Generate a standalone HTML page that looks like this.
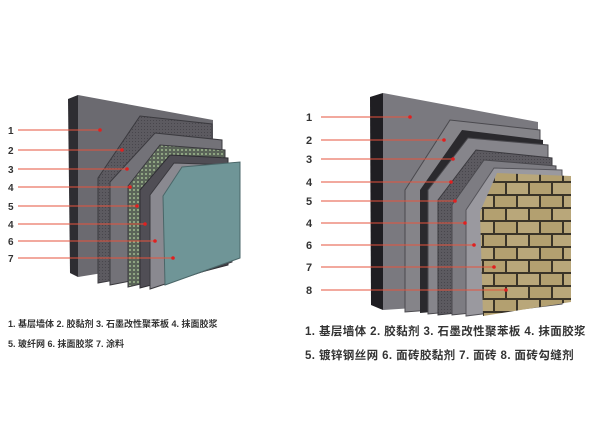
<!DOCTYPE html>
<html><head><meta charset="utf-8"><style>
body{margin:0;background:#fff;width:600px;height:429px;overflow:hidden}
svg{display:block}
text{font-family:"Liberation Sans","Noto Sans CJK SC",sans-serif}
</style></head><body>
<svg width="600" height="429" viewBox="0 0 600 429" xmlns="http://www.w3.org/2000/svg">
<defs>
<pattern id="grid" width="3" height="3" patternUnits="userSpaceOnUse"><rect width="3" height="3" fill="#5c5a60"/><rect width="1" height="1" fill="#48464c"/></pattern>
<pattern id="mesh" width="4" height="4" patternUnits="userSpaceOnUse"><rect width="4" height="4" fill="#5a6458"/><circle cx="2" cy="2" r="1" fill="#9fb88e"/></pattern>
<pattern id="brick" width="46" height="26" patternUnits="userSpaceOnUse"><rect width="46" height="26" fill="#3a3428"/><rect x="1" y="1" width="21" height="11" fill="#b9a77a"/><rect x="24" y="1" width="21" height="11" fill="#b3a070"/><rect x="-11" y="14" width="21" height="11" fill="#b3a070"/><rect x="12" y="14" width="21" height="11" fill="#b9a77a"/><rect x="35" y="14" width="21" height="11" fill="#b3a070"/></pattern>
</defs>
<!-- LEFT -->
<polygon points="68,99 78,95 78,277 70,273" fill="#2e2d32"/>
<polygon points="78,95 213,120 213,255 78,277" fill="#6b6a70"/>
<polygon points="98,178 140,116 212,124 213,262 98,283" fill="url(#grid)" stroke="#3a393e" stroke-width="1"/>
<polygon points="110,182 155,133 222,140 222,263 110,285" fill="#737278" stroke="#3a393e"/>
<polygon points="128,186 160,145 225,150 225,264 128,287" fill="url(#mesh)" stroke="#3a393e"/>
<polygon points="140,190 170,155 228,158 228,265 140,288" fill="#504e55" stroke="#2f2e33"/>
<polygon points="150,195 174,163 232,165 232,262 150,289" fill="#8a8990" stroke="#3a393e"/>
<polygon points="163,196 182,167 240,162 240,258 165,285" fill="#6f9597" stroke="#4a6668"/>
<g fill="#333" font-size="10" font-weight="bold">
<text x="8" y="134">1</text><text x="8" y="154">2</text><text x="8" y="173">3</text><text x="8" y="191">4</text><text x="8" y="210">5</text><text x="8" y="228">4</text><text x="8" y="245">6</text><text x="8" y="262">7</text>
</g>
<g stroke="#e5533d" stroke-width="1">
<line x1="18" y1="130" x2="100" y2="130"/><line x1="18" y1="150" x2="122" y2="150"/><line x1="18" y1="169" x2="127" y2="169"/><line x1="18" y1="187" x2="130" y2="187"/><line x1="18" y1="206" x2="137" y2="206"/><line x1="18" y1="224" x2="145" y2="224"/><line x1="18" y1="241" x2="155" y2="241"/><line x1="18" y1="258" x2="173" y2="258"/>
</g>
<g fill="#e02020"><circle cx="100" cy="130" r="1.8"/><circle cx="122" cy="150" r="1.8"/><circle cx="127" cy="169" r="1.8"/><circle cx="130" cy="187" r="1.8"/><circle cx="137" cy="206" r="1.8"/><circle cx="145" cy="224" r="1.8"/><circle cx="155" cy="241" r="1.8"/><circle cx="173" cy="258" r="1.8"/></g>
<!-- RIGHT -->
<polygon points="370,97 383,93 383,310 371,305" fill="#1f1e22"/>
<polygon points="383,93 538,122 538,300 383,310" fill="#7a797f"/>
<polygon points="405,190 450,120 540,130 540,302 405,312" fill="#858489" stroke="#4a494e"/>
<polygon points="420,190 462,130 543,140 543,303 420,313" fill="#2a292d"/>
<polygon points="428,190 468,138 548,145 548,303 428,314" fill="#86858b" stroke="#4a494e"/>
<polygon points="438,200 476,150 552,158 552,303 438,315" fill="url(#grid)" stroke="#3a393e"/>
<polygon points="452,205 484,160 556,166 556,304 452,315" fill="#7d7c82" stroke="#4a494e"/>
<polygon points="466,210 494,168 562,170 562,304 466,316" fill="#9a999f" stroke="#55545a"/>
<polygon points="480,212 497,173 571,176 571,302 483,316" fill="url(#brick)"/>
<g fill="#333" font-size="11" font-weight="bold">
<text x="306" y="121">1</text><text x="306" y="144">2</text><text x="306" y="163">3</text><text x="306" y="186">4</text><text x="306" y="205">5</text><text x="306" y="227">4</text><text x="306" y="249">6</text><text x="306" y="271">7</text><text x="306" y="294">8</text>
</g>
<g stroke="#e5533d" stroke-width="1">
<line x1="321" y1="117" x2="410" y2="117"/><line x1="321" y1="140" x2="444" y2="140"/><line x1="321" y1="159" x2="453" y2="159"/><line x1="321" y1="182" x2="451" y2="182"/><line x1="321" y1="201" x2="455" y2="201"/><line x1="321" y1="223" x2="465" y2="223"/><line x1="321" y1="245" x2="474" y2="245"/><line x1="321" y1="267" x2="494" y2="267"/><line x1="321" y1="290" x2="506" y2="290"/>
</g>
<g fill="#e02020"><circle cx="410" cy="117" r="1.8"/><circle cx="444" cy="140" r="1.8"/><circle cx="453" cy="159" r="1.8"/><circle cx="451" cy="182" r="1.8"/><circle cx="455" cy="201" r="1.8"/><circle cx="465" cy="223" r="1.8"/><circle cx="474" cy="245" r="1.8"/><circle cx="494" cy="267" r="1.8"/><circle cx="506" cy="290" r="1.8"/></g>
<!-- captions -->
<g fill="#333" font-size="9" font-weight="bold">
<text x="8" y="327">1. 基层墙体  2. 胶黏剂  3. 石墨改性聚苯板 4. 抹面胶浆</text>
<text x="8" y="347">5. 玻纤网  6. 抹面胶浆  7. 涂料</text>
</g>
<g fill="#333" font-size="11.5" font-weight="bold" letter-spacing="0.4">
<text x="305" y="335">1. 基层墙体  2. 胶黏剂  3. 石墨改性聚苯板  4. 抹面胶浆</text>
<text x="305" y="359">5. 镀锌钢丝网  6. 面砖胶黏剂  7. 面砖  8. 面砖勾缝剂</text>
</g>
</svg>
</body></html>
